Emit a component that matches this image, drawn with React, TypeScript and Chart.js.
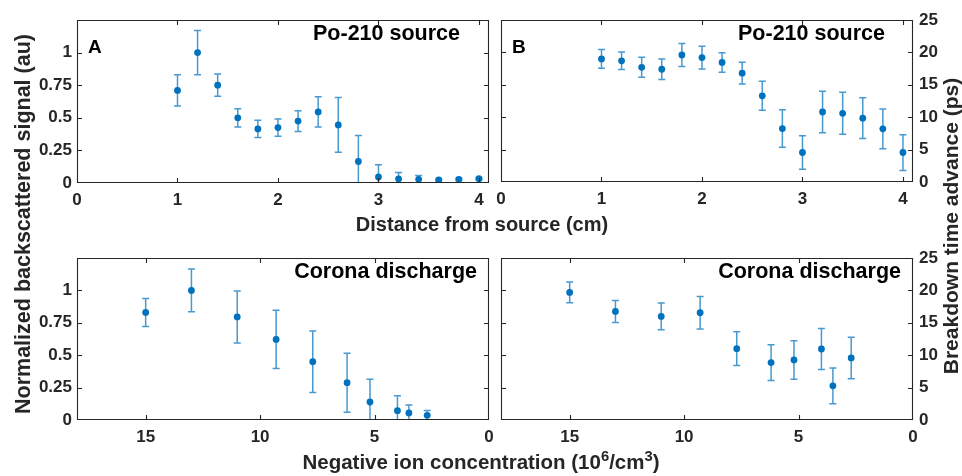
import React, { useEffect, useRef } from 'react';
import { Chart, registerables } from 'chart.js';

Chart.register(...registerables);

// ---------- data ----------
const distance = [1.0, 1.2, 1.4, 1.6, 1.8, 2.0, 2.2, 2.4, 2.6, 2.8, 3.0, 3.2, 3.4, 3.6, 3.8, 4.0];
const signalPo = [0.71, 1.0, 0.75, 0.5, 0.415, 0.425, 0.475, 0.545, 0.445, 0.165, 0.046, 0.031, 0.028, 0.023, 0.028, 0.033];
const signalPoErr = [0.12, 0.17, 0.085, 0.07, 0.067, 0.066, 0.08, 0.116, 0.21, 0.2, 0.094, 0.05, 0.03, 0.008, 0.008, 0.008];
const breakdownPo = [19.0, 18.7, 17.7, 17.4, 19.6, 19.2, 18.45, 16.8, 13.3, 8.25, 4.55, 10.8, 10.6, 9.85, 8.2, 4.55];
const breakdownPoErr = [1.45, 1.35, 1.55, 1.6, 1.77, 1.75, 1.5, 1.67, 2.23, 2.9, 2.6, 3.2, 3.25, 3.15, 3.07, 2.76];

const concentration = [15, 13, 11, 9.3, 7.7, 6.2, 5.2, 4.0, 3.5, 2.7];
const signalCorona = [0.83, 1.0, 0.795, 0.622, 0.45, 0.288, 0.139, 0.072, 0.054, 0.036];
const signalCoronaErr = [0.108, 0.165, 0.2, 0.225, 0.237, 0.228, 0.175, 0.116, 0.062, 0.038];
const breakdownCorona = [19.68, 16.76, 15.99, 16.55, 11.01, 8.86, 9.27, 10.96, 5.27, 9.58];
const breakdownCoronaErr = [1.6, 1.7, 2.05, 2.5, 2.6, 2.77, 2.97, 3.15, 2.77, 3.2];

const distanceTicks = [0, 1, 2, 3, 4];
const concentrationTicks = [15, 10, 5, 0];
const signalTicks = [0, 0.25, 0.5, 0.75, 1];
const breakdownTicks = [0, 5, 10, 15, 20, 25];

// ---------- style ----------
const W = 962;
const H = 476;
const BLUE = '#0072BD';
const BAR = 'rgba(0,114,189,0.72)';
const INK = '#262626';
const FAMILY = '"Liberation Sans", Arial, Helvetica, sans-serif';
const YW = 50;
const XH = 34;

type Panel = {
  area: { left: number; top: number; right: number; bottom: number };
  xs: number[];
  ys: number[];
  err: number[];
  xMin: number;
  xMax: number;
  reverse: boolean;
  xTicks: number[];
  yMax: number;
  yTicks: number[];
  yPos: 'left' | 'right';
  title: string;
  titleInset: number;
  letter: string;
};

const panels: Panel[] = [
  {
    area: { left: 77, top: 20, right: 489, bottom: 183 },
    xs: distance, ys: signalPo, err: signalPoErr,
    xMin: 0, xMax: 4.1, reverse: false, xTicks: distanceTicks,
    yMax: 1.25, yTicks: signalTicks, yPos: 'left',
    title: 'Po-210 source', titleInset: 29, letter: 'A',
  },
  {
    area: { left: 501, top: 20, right: 913, bottom: 182 },
    xs: distance, ys: breakdownPo, err: breakdownPoErr,
    xMin: 0, xMax: 4.1, reverse: false, xTicks: distanceTicks,
    yMax: 25, yTicks: breakdownTicks, yPos: 'right',
    title: 'Po-210 source', titleInset: 28, letter: 'B',
  },
  {
    area: { left: 77, top: 258, right: 489, bottom: 420 },
    xs: concentration, ys: signalCorona, err: signalCoronaErr,
    xMin: 0, xMax: 18, reverse: true, xTicks: concentrationTicks,
    yMax: 1.25, yTicks: signalTicks, yPos: 'left',
    title: 'Corona discharge', titleInset: 12, letter: '',
  },
  {
    area: { left: 501, top: 258, right: 913, bottom: 420 },
    xs: concentration, ys: breakdownCorona, err: breakdownCoronaErr,
    xMin: 0, xMax: 18, reverse: true, xTicks: concentrationTicks,
    yMax: 25, yTicks: breakdownTicks, yPos: 'right',
    title: 'Corona discharge', titleInset: 12, letter: '',
  },
];

// ---------- plugins ----------
const errorBarPlugin = {
  id: 'errorBars',
  beforeDatasetsDraw(chart: any, _args: any, opts: any) {
    const { ctx, chartArea: a } = chart;
    const xs = chart.scales.x;
    const ys = chart.scales.y;
    const err: number[] = opts.err || [];
    ctx.save();
    ctx.beginPath();
    ctx.rect(a.left, a.top, a.right - a.left, a.bottom - a.top);
    ctx.clip();
    ctx.strokeStyle = BAR;
    ctx.lineWidth = 1.5;
    const cap = 3.5;
    chart.data.datasets[0].data.forEach((p: any, i: number) => {
      const e = err[i] || 0;
      const px = xs.getPixelForValue(p.x);
      const y1 = ys.getPixelForValue(p.y + e);
      const y2 = ys.getPixelForValue(p.y - e);
      ctx.beginPath();
      ctx.moveTo(px, y1);
      ctx.lineTo(px, y2);
      ctx.moveTo(px - cap, y1);
      ctx.lineTo(px + cap, y1);
      ctx.moveTo(px - cap, y2);
      ctx.lineTo(px + cap, y2);
      ctx.stroke();
    });
    ctx.restore();
  },
};

const framePlugin = {
  id: 'frame',
  afterDraw(chart: any, _args: any, opts: any) {
    const { ctx, chartArea: a } = chart;
    const xs = chart.scales.x;
    const ys = chart.scales.y;
    const L = Math.round(a.left) + 0.5;
    const R = Math.round(a.right) - 0.5;
    const T = Math.round(a.top) + 0.5;
    const B = Math.round(a.bottom) - 0.5;
    const tl = 4.5;
    ctx.save();
    ctx.strokeStyle = INK;
    ctx.lineWidth = 1.1;
    ctx.beginPath();
    ctx.rect(L, T, R - L, B - T);
    (opts.xTicks as number[]).forEach((v) => {
      const px = Math.round(xs.getPixelForValue(v)) + 0.5;
      if (px <= L + 1 || px >= R - 1) return;
      ctx.moveTo(px, B);
      ctx.lineTo(px, B - tl);
      ctx.moveTo(px, T);
      ctx.lineTo(px, T + tl);
    });
    (opts.yTicks as number[]).forEach((v) => {
      const py = Math.round(ys.getPixelForValue(v)) + 0.5;
      if (py <= T + 1 || py >= B - 1) return;
      ctx.moveTo(L, py);
      ctx.lineTo(L + tl, py);
      ctx.moveTo(R, py);
      ctx.lineTo(R - tl, py);
    });
    ctx.stroke();

    ctx.fillStyle = '#000';
    ctx.textBaseline = 'alphabetic';
    if (opts.letter) {
      ctx.font = `bold 19px ${FAMILY}`;
      ctx.textAlign = 'left';
      ctx.fillText(opts.letter, a.left + 11, a.top + 33);
    }
    if (opts.title) {
      ctx.font = `bold 21.5px ${FAMILY}`;
      ctx.textAlign = 'right';
      ctx.fillText(opts.title, a.right - opts.titleInset, a.top + 19.7);
    }
    ctx.restore();
  },
};

// ---------- components ----------
function PanelChart({ panel }: { panel: Panel }) {
  const ref = useRef<HTMLCanvasElement | null>(null);
  useEffect(() => {
    if (!ref.current) return;
    const p = panel;
    const padLeft = p.yPos === 'left' ? p.area.left - YW : p.area.left;
    const padRight = p.yPos === 'left' ? W - p.area.right : W - p.area.right - YW;
    const tickFont = { family: FAMILY, size: 17, weight: 'bold' as const };
    const chart = new Chart(ref.current, {
      type: 'scatter',
      data: {
        datasets: [
          {
            data: p.xs.map((x, i) => ({ x, y: p.ys[i] })),
            backgroundColor: BLUE,
            borderColor: BLUE,
            borderWidth: 0,
            pointRadius: 3.4,
            pointHoverRadius: 3.4,
            showLine: false,
          },
        ],
      },
      options: {
        animation: false,
        responsive: false,
        maintainAspectRatio: false,
        events: [],
        layout: {
          padding: {
            left: padLeft,
            right: padRight,
            top: p.area.top,
            bottom: H - p.area.bottom - XH,
          },
        },
        plugins: {
          legend: { display: false },
          tooltip: { enabled: false },
          errorBars: { err: p.err },
          frame: {
            xTicks: p.xTicks,
            yTicks: p.yTicks,
            letter: p.letter,
            title: p.title,
            titleInset: p.titleInset,
          },
        } as any,
        scales: {
          x: {
            type: 'linear',
            position: 'bottom',
            min: p.xMin,
            max: p.xMax,
            reverse: p.reverse,
            grid: { display: false, drawTicks: false },
            border: { display: false },
            afterBuildTicks: (s: any) => {
              s.ticks = p.xTicks.map((v) => ({ value: v }));
            },
            afterFit: (s: any) => {
              s.height = XH;
            },
            ticks: {
              font: tickFont,
              color: INK,
              padding: 7,
              maxRotation: 0,
              autoSkip: false,
              callback: (v: any) => String(v),
            },
          },
          y: {
            type: 'linear',
            position: p.yPos,
            min: 0,
            max: p.yMax,
            grid: { display: false, drawTicks: false },
            border: { display: false },
            afterBuildTicks: (s: any) => {
              s.ticks = p.yTicks.map((v) => ({ value: v }));
            },
            afterFit: (s: any) => {
              s.width = YW;
            },
            ticks: {
              font: tickFont,
              color: INK,
              padding: p.yPos === 'left' ? 5 : 6,
              autoSkip: false,
              callback: (v: any) => String(v),
            },
          },
        },
      } as any,
      plugins: [errorBarPlugin, framePlugin],
    });
    return () => chart.destroy();
  }, [panel]);
  return (
    <canvas
      ref={ref}
      width={W}
      height={H}
      style={{ position: 'absolute', left: 0, top: 0, width: W, height: H }}
    />
  );
}

const labelStyle: React.CSSProperties = {
  position: 'absolute',
  fontFamily: FAMILY,
  fontWeight: 'bold',
  color: INK,
  whiteSpace: 'nowrap',
  textAlign: 'center',
};

export default function App() {
  return (
    <div
      style={{
        position: 'absolute',
        left: 0,
        top: 0,
        width: W,
        height: H,
        background: '#fff',
        overflow: 'hidden',
      }}
    >
      {panels.map((p, i) => (
        <PanelChart key={i} panel={p} />
      ))}
      <div
        style={{
          ...labelStyle,
          left: 482 - 200,
          top: 214,
          width: 400,
          fontSize: 20,
          lineHeight: '20px',
        }}
      >
        Distance from source (cm)
      </div>
      <div
        style={{
          ...labelStyle,
          left: 481 - 250,
          top: 452,
          width: 500,
          fontSize: 20.5,
          lineHeight: '20px',
        }}
      >
        Negative ion concentration (10
        <sup style={{ fontSize: '0.72em', verticalAlign: '0.55em', lineHeight: 0 }}>6</sup>
        /cm
        <sup style={{ fontSize: '0.72em', verticalAlign: '0.55em', lineHeight: 0 }}>3</sup>)
      </div>
      <div
        style={{
          ...labelStyle,
          left: 23 - 250,
          top: 224 - 13,
          width: 500,
          height: 26,
          lineHeight: '26px',
          fontSize: 21.5,
          transform: 'rotate(-90deg)',
        }}
      >
        Normalized backscattered signal (au)
      </div>
      <div
        style={{
          ...labelStyle,
          left: 951 - 250,
          top: 226 - 13,
          width: 500,
          height: 26,
          lineHeight: '26px',
          fontSize: 21,
          transform: 'rotate(-90deg)',
        }}
      >
        Breakdown time advance (ps)
      </div>
    </div>
  );
}
